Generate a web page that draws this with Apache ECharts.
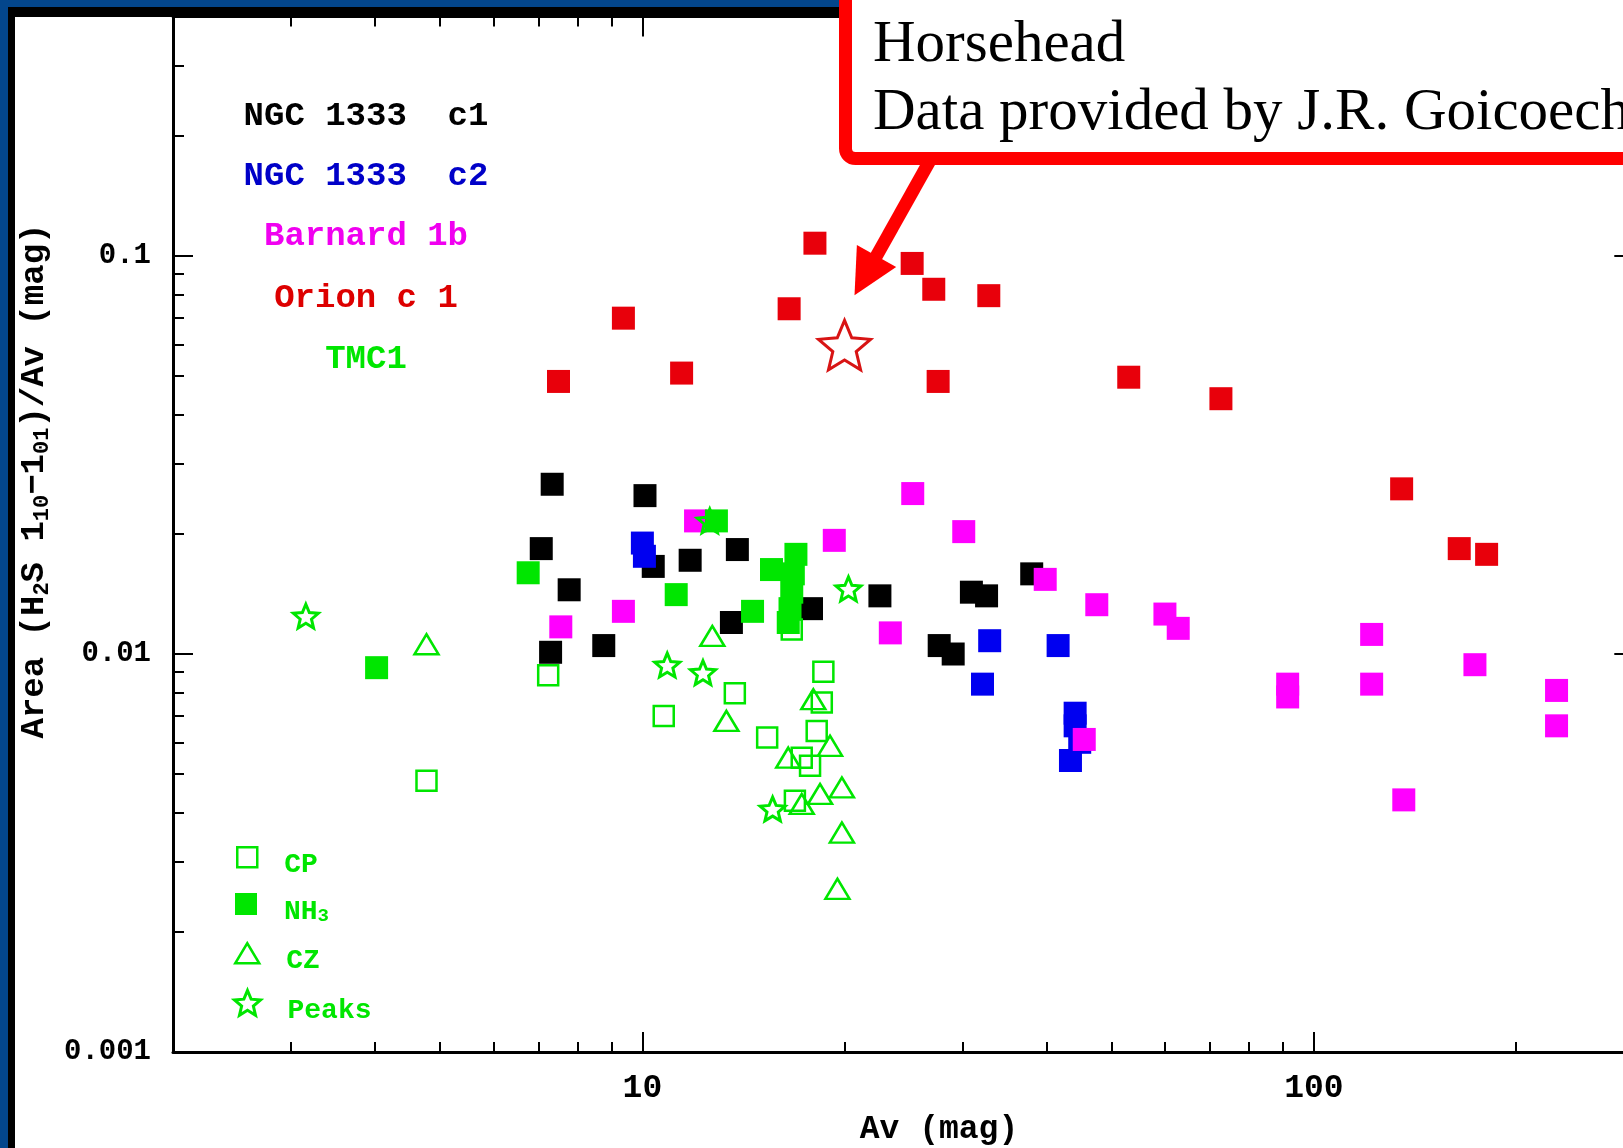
<!DOCTYPE html>
<html>
<head>
<meta charset="utf-8">
<title>H2S area vs Av</title>
<script src="https://cdn.jsdelivr.net/npm/echarts@6/dist/echarts.min.js"></script>
<style>
  html, body { margin: 0; padding: 0; background: #ffffff; }
  #chart { width: 1623px; height: 1148px; }
</style>
</head>
<body>
<div id="chart"></div>
<script>
// ---- Data: Av (mag) and line area / Av (mag) per source ----
const ngc1333c1Av   = [7.34, 10.09, 7.07, 7.78, 7.30, 8.76, 11.78, 10.38, 13.85, 13.57, 17.86, 22.58, 30.9, 32.55, 27.67, 29.03, 38.0];
const ngc1333c1Area = [0.0267, 0.0250, 0.0184, 0.0145, 0.0101, 0.0105, 0.0172, 0.0166, 0.0183, 0.0120, 0.0130, 0.0140, 0.0143, 0.0140, 0.0105, 0.0100, 0.0159];

const ngc1333c2Av   = [10.0, 10.07, 32.9, 32.1, 41.6, 44.1, 44.1, 44.8, 43.4];
const ngc1333c2Area = [0.0190, 0.0176, 0.0108, 0.0084, 0.0105, 0.0071, 0.0066, 0.0060, 0.0054];

const barnard1bAv   = [12.0, 9.37, 7.56, 19.31, 25.27, 30.1, 23.4, 39.8, 47.5, 60.0, 62.8, 91.4, 91.4, 121.9, 121.9, 173.7, 136.1, 45.5, 229.8, 229.8];
const barnard1bArea = [0.0216, 0.0128, 0.0117, 0.0193, 0.0253, 0.0203, 0.0113, 0.0154, 0.0133, 0.0126, 0.0116, 0.0084, 0.0078, 0.0112, 0.0084, 0.0094, 0.0043, 0.0061, 0.0081, 0.0066];

const orionAv   = [7.50, 9.37, 11.44, 18.07, 16.54, 25.22, 27.16, 32.8, 27.57, 53.0, 72.7, 135.1, 164.6, 180.8];
const orionArea = [0.0484, 0.0698, 0.0508, 0.1077, 0.0737, 0.0958, 0.0825, 0.0795, 0.0484, 0.0496, 0.0438, 0.0260, 0.0184, 0.0178];

// TMC1 positions, split by family
const tmcCpAv     = [7.24, 10.76, 13.73, 15.34, 18.60, 18.50, 18.18, 17.27, 17.77, 16.87, 16.69, 4.77];
const tmcCpArea   = [0.00884, 0.00699, 0.00797, 0.00617, 0.00903, 0.00755, 0.00641, 0.00549, 0.00524, 0.00428, 0.01153, 0.00480];
const tmcNh3Av    = [6.76, 11.23, 12.89, 14.59, 15.57, 16.93, 16.78, 16.69, 16.59, 16.49, 4.02];
const tmcNh3Area  = [0.0160, 0.0141, 0.0216, 0.0128, 0.0163, 0.0178, 0.0159, 0.0143, 0.0130, 0.0120, 0.00924];
const tmcCzAv     = [12.71, 13.34, 17.97, 19.03, 16.49, 19.82, 18.39, 17.27, 19.82, 19.52, 4.77];
const tmcCzArea   = [0.0111, 0.00679, 0.0077, 0.00588, 0.00549, 0.00462, 0.00445, 0.0042, 0.00356, 0.00257, 0.01058];
const tmcPeaksAv  = [10.89, 12.31, 20.27, 15.63, 12.60, 3.154];
const tmcPeaksArea= [0.00938, 0.00898, 0.01458, 0.00408, 0.0216, 0.01245];

const horseheadAv   = [20.0];
const horseheadArea = [0.0597];

// ---- Axes ----
const X_MIN = 2, X_MAX = 300;
const Y_MIN = 0.001, Y_MAX = 0.4;
const xMajorTicks = [10, 100];
const xTickLabels = ['10', '100'];
const xMinorTicks = [3, 4, 5, 6, 7, 8, 9, 20, 30, 40, 50, 60, 70, 80, 90, 200];
const yMajorTicks = [0.001, 0.01, 0.1];
const yTickLabels = ['0.001', '0.01', '0.1'];
const yMinorTicks = [0.002, 0.003, 0.004, 0.005, 0.006, 0.007, 0.008, 0.009,
                     0.02, 0.03, 0.04, 0.05, 0.06, 0.07, 0.08, 0.09, 0.2, 0.3];

const MONO = '"Liberation Mono", "DejaVu Sans Mono", monospace';
const SERIF = '"Liberation Serif", "Times New Roman", serif';
const GREEN = '#00e600';
const BLUE_FRAME = '#03468c';
const STAR = 'path://M50,0L63.23,31.8L97.55,34.55L71.4,56.95L79.39,90.45L50,72.5L20.61,90.45L28.6,56.95L2.45,34.55L36.77,31.8Z';

function pairs(xs, ys) { return xs.map((x, i) => [x, ys[i]]); }
function labelFor(ticks, texts) {
  return v => {
    const i = ticks.findIndex(t => Math.abs(Math.log10(t) - Math.log10(v)) < 1e-6);
    return i >= 0 ? texts[i] : '';
  };
}

function logAxis(kind, position, ticks, tickLen, withLine, label) {
  const isX = kind === 'x';
  return {
    type: 'log', logBase: 10,
    min: isX ? X_MIN : Y_MIN, max: isX ? X_MAX : Y_MAX,
    position: position,
    splitLine: { show: false },
    axisPointer: { show: false },
    axisLine: { show: withLine, onZero: false, lineStyle: { color: '#000', width: 3 } },
    axisTick: { show: true, inside: true, length: tickLen, customValues: ticks,
                lineStyle: { color: '#000', width: 2 } },
    axisLabel: label ? Object.assign({ show: true, customValues: ticks }, label) : { show: false }
  };
}

const xAxes = [
  logAxis('x', 'bottom', xMajorTicks, 20, true, {
    formatter: labelFor(xMajorTicks, xTickLabels), margin: 20,
    fontFamily: MONO, fontWeight: 'bold', fontSize: 33, color: '#000'
  }),
  logAxis('x', 'bottom', xMinorTicks, 10, false, null),
  logAxis('x', 'top', xMajorTicks, 20, true, null),
  logAxis('x', 'top', xMinorTicks, 10, false, null)
];
const yAxes = [
  logAxis('y', 'left', yMajorTicks, 20, true, {
    formatter: labelFor(yMajorTicks, yTickLabels), margin: 22,
    fontFamily: MONO, fontWeight: 'bold', fontSize: 29, color: '#000'
  }),
  logAxis('y', 'left', yMinorTicks, 11, false, null),
  logAxis('y', 'right', yMajorTicks, 20, true, null),
  logAxis('y', 'right', yMinorTicks, 11, false, null)
];

function filledSeries(name, xs, ys, color) {
  return { name, type: 'scatter', data: pairs(xs, ys), symbol: 'rect', symbolSize: 23,
           itemStyle: { color: color, opacity: 1 }, silent: true };
}
function openSeries(name, xs, ys, symbol, size, width) {
  return { name, type: 'scatter', data: pairs(xs, ys), symbol, symbolSize: size, symbolKeepAspect: true,
           itemStyle: { color: 'rgba(0,0,0,0)', borderColor: GREEN, borderWidth: width, opacity: 1 }, silent: true };
}

const series = [
  filledSeries('NGC 1333 c1', ngc1333c1Av, ngc1333c1Area, '#000000'),
  filledSeries('NGC 1333 c2', ngc1333c2Av, ngc1333c2Area, '#0000f0'),
  filledSeries('Barnard 1b', barnard1bAv, barnard1bArea, '#ff00ff'),
  filledSeries('Orion c 1', orionAv, orionArea, '#e8000b'),
  openSeries('CP', tmcCpAv, tmcCpArea, 'rect', 20, 2.5),
  openSeries('CZ', tmcCzAv, tmcCzArea, 'triangle', [24, 20], 2.5),
  filledSeries('NH3', tmcNh3Av, tmcNh3Area, GREEN),
  openSeries('Peaks', tmcPeaksAv, tmcPeaksArea, STAR, 25, 3),
  { name: 'Horsehead', type: 'scatter', data: pairs(horseheadAv, horseheadArea), symbol: STAR,
    symbolSize: 52, symbolKeepAspect: true, silent: true,
    itemStyle: { color: 'rgba(0,0,0,0)', borderColor: '#d81414', borderWidth: 3, opacity: 1 } }
];

// TMC1 key: one legend block per family so each row sits at its own height
function keyBlock(name, top, w, h, icon, style) {
  return {
    data: [name], left: 246 - w / 2, top: top, padding: 0,
    itemWidth: w, itemHeight: h, icon: icon, selectedMode: false,
    itemStyle: style,
    formatter: n => n === 'NH3' ? '{m|NH}{s|3}' : '{m|' + n + '}',
    textStyle: {
      color: GREEN,
      rich: {
        m: { fontFamily: MONO, fontWeight: 'bold', fontSize: 28, color: GREEN, padding: [16, 0, 0, 22] },
        s: { fontFamily: MONO, fontWeight: 'bold', fontSize: 19, color: GREEN, padding: [24, 0, 0, 0] }
      }
    }
  };
}
const openKey = w => ({ color: 'rgba(0,0,0,0)', borderColor: GREEN, borderWidth: w });
const legends = [
  keyBlock('CP', 846, 20, 20, 'rect', openKey(2.5)),
  keyBlock('NH3', 893, 22, 22, 'rect', { color: GREEN, borderWidth: 0 }),
  keyBlock('CZ', 942, 24, 20, 'triangle', openKey(2.5)),
  keyBlock('Peaks', 989, 26, 26, STAR, openKey(3))
];

const chart = echarts.init(document.getElementById('chart'), null, { renderer: 'canvas', width: 1623, height: 1148 });
chart.setOption({
  animation: false,
  backgroundColor: '#ffffff',
  grid: { left: 173, top: 16.4, width: 1461.3, height: 1035.6, containLabel: false, outerBoundsMode: 'none' },
  xAxis: xAxes,
  yAxis: yAxes,
  legend: legends,
  series: series
});

// ---- Frame, titles and the Horsehead call-out ----
const sourceLabels = [
  { text: 'NGC 1333  c1', color: '#000000', y: 116 },
  { text: 'NGC 1333  c2', color: '#0000c8', y: 176 },
  { text: 'Barnard 1b',   color: '#f000f0', y: 236 },
  { text: 'Orion c 1',    color: '#dd0000', y: 298 },
  { text: 'TMC1',         color: GREEN,     y: 359 }
];

const hp = chart.convertToPixel({ xAxisIndex: 0, yAxisIndex: 0 }, [horseheadAv[0], horseheadArea[0]]);
const tip = [hp[0] + 10, hp[1] - 50];
const ux = 0.489, uy = -0.873;           // arrow direction, tip -> tail
const headLen = 45, headHalf = 22.5;
const base = [tip[0] + ux * headLen, tip[1] + uy * headLen];
const wingA = [base[0] + (-uy) * headHalf, base[1] + ux * headHalf];
const wingB = [base[0] - (-uy) * headHalf, base[1] - ux * headHalf];
const tailLen = (tip[1] - 158) / -uy;
const tail = [tip[0] + ux * tailLen, tip[1] + uy * tailLen];

const graphics = [
  { type: 'rect', z: 100, shape: { x: 0, y: 0, width: 1623, height: 7 }, style: { fill: BLUE_FRAME } },
  { type: 'rect', z: 100, shape: { x: 0, y: 0, width: 8, height: 1148 }, style: { fill: BLUE_FRAME } },
  { type: 'rect', z: 100, shape: { x: 8, y: 7, width: 1615, height: 10 }, style: { fill: '#000' } },
  { type: 'rect', z: 100, shape: { x: 8, y: 7, width: 7, height: 1141 }, style: { fill: '#000' } },
  {
    type: 'text', z: 100, x: 34, y: 481, rotation: Math.PI / 2,
    style: {
      text: '{n|Area (H}{s|2}{n|S 1}{s|10}{n|\u22121}{s|01}{n|)/Av (mag)}',
      align: 'center', verticalAlign: 'middle',
      rich: {
        n: { fontFamily: MONO, fontWeight: 'bold', fontSize: 34, fill: '#000' },
        s: { fontFamily: MONO, fontWeight: 'bold', fontSize: 22, fill: '#000', padding: [16, 0, 0, 0] }
      }
    }
  },
  {
    type: 'text', z: 100, x: 939, y: 1130,
    style: { text: 'Av (mag)', align: 'center', verticalAlign: 'middle',
             fontFamily: MONO, fontWeight: 'bold', fontSize: 33, fill: '#000' }
  }
].concat(sourceLabels.map(l => ({
  type: 'text', z: 100, x: 366, y: l.y,
  style: { text: l.text, align: 'center', verticalAlign: 'middle',
           fontFamily: MONO, fontWeight: 'bold', fontSize: 34, fill: l.color }
}))).concat([
  { type: 'rect', z: 110, shape: { x: 845.5, y: -60, width: 900, height: 218.5, r: 10 },
    style: { fill: '#ffffff', stroke: '#ff0000', lineWidth: 13 } },
  { type: 'text', z: 111, x: 873, y: 45,
    style: { text: 'Horsehead', align: 'left', verticalAlign: 'middle',
             fontFamily: SERIF, fontSize: 59, fill: '#000' } },
  { type: 'text', z: 111, x: 873, y: 113,
    style: { text: 'Data provided by J.R. Goicoechea', align: 'left', verticalAlign: 'middle',
             fontFamily: SERIF, fontSize: 59, fill: '#000' } },
  { type: 'line', z: 110, shape: { x1: base[0] - ux * 2, y1: base[1] - uy * 2, x2: tail[0], y2: tail[1] },
    style: { stroke: '#ff0000', lineWidth: 13 } },
  { type: 'polygon', z: 110, shape: { points: [tip, wingA, wingB] }, style: { fill: '#ff0000' } }
]);

chart.setOption({ graphic: graphics });
</script>
</body>
</html>
